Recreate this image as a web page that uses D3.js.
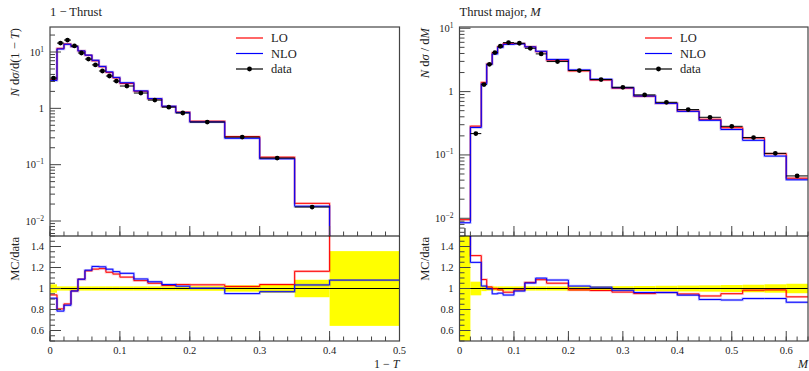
<!DOCTYPE html>
<html><head><meta charset="utf-8">
<script src="https://cdn.jsdelivr.net/npm/d3@7"></script>
<style>body{margin:0;background:#fff} text{font-family:"Liberation Serif","DejaVu Serif",serif;fill:#222}</style>
</head><body><svg id="c" width="809" height="371"></svg>
<script>
// ---------- 1 - Thrust ----------
const thrustEdges = [0,0.01,0.02,0.03,0.04,0.05,0.06,0.07,0.08,0.09,0.10,0.12,0.14,0.16,0.18,0.20,0.25,0.30,0.35,0.40,0.50];
const thrustData  = [3.45,14.4,16.3,12.8,9.6,7.5,5.9,4.6,3.75,3.05,2.49,1.87,1.40,1.05,0.826,0.571,0.309,0.131,0.0177,0.002];
const thrustErr   = [0.04,0.02,0.02,0.02,0.02,0.02,0.02,0.02,0.02,0.02,0.02,0.02,0.02,0.02,0.02,0.022,0.03,0.04,0.083,0.356];
const thrustLO    = [3.24,11.6,13.9,12.5,10.45,8.76,6.99,5.47,4.33,3.47,2.76,2.01,1.47,1.08,0.857,0.591,0.315,0.136,0.0206,0.004];
const thrustNLO   = [3.13,11.3,13.7,12.5,10.45,8.81,7.14,5.55,4.44,3.54,2.85,2.04,1.49,1.09,0.844,0.573,0.294,0.127,0.0183,0.00216];
const thrustXTicks = [0,0.1,0.2,0.3,0.4,0.5];

// ---------- Thrust major ----------
const majorEdges = [0,0.02,0.04,0.05,0.06,0.07,0.08,0.10,0.12,0.14,0.16,0.20,0.24,0.28,0.32,0.36,0.40,0.44,0.48,0.52,0.56,0.60,0.64];
const majorData  = [0.0035,0.217,1.29,2.70,4.13,5.20,5.94,5.80,4.83,3.94,2.98,2.15,1.55,1.17,0.887,0.678,0.520,0.393,0.283,0.188,0.106,0.0466];
const majorErr   = [1.0,0.065,0.025,0.02,0.02,0.02,0.02,0.02,0.02,0.02,0.02,0.02,0.02,0.022,0.024,0.026,0.028,0.03,0.033,0.036,0.04,0.045];
const majorLO    = [0.0095,0.285,1.40,2.74,4.12,5.13,5.73,5.72,5.11,4.27,3.13,2.12,1.52,1.13,0.844,0.652,0.493,0.365,0.269,0.185,0.1046,0.0429];
const majorNLO   = [0.0085,0.271,1.32,2.69,3.92,4.97,5.57,5.66,5.08,4.33,3.22,2.20,1.57,1.15,0.853,0.652,0.487,0.352,0.252,0.170,0.0959,0.0405];
const majorXTicks = [0,0.1,0.2,0.3,0.4,0.5,0.6];

const ratioTicks = [0.6,0.8,1,1.2,1.4];
const legendLabels = ["LO","NLO","data"];
const colLO = "#ff0000", colNLO = "#0000ff", frameCol = "#444";

const svg = d3.select("#c");
let clipId = 0;

function supText(sel, base, sup){
  sel.append("tspan").text(base);
  if(sup!==null) sel.append("tspan").attr("dy",-4).attr("font-size",7.5).text(sup);
}

function drawPanel(cfg){
  const g = svg.append("g");
  const x = d3.scaleLinear().domain(cfg.xDomain).range([cfg.x0,cfg.x1]);
  const y = d3.scaleLog().domain(cfg.yDomain).range([cfg.mainBot,cfg.top]);
  const r = d3.scaleLinear().domain([0.5,1.5]).range([cfg.ratioBot,cfg.mainBot]);
  const edges = cfg.edges;

  const cm = "clip"+(clipId++), cr = "clip"+(clipId++);
  const defs = g.append("defs");
  defs.append("clipPath").attr("id",cm).append("rect")
    .attr("x",cfg.x0).attr("y",cfg.top).attr("width",cfg.x1-cfg.x0).attr("height",cfg.mainBot-cfg.top);
  defs.append("clipPath").attr("id",cr).append("rect")
    .attr("x",cfg.x0).attr("y",cfg.mainBot).attr("width",cfg.x1-cfg.x0).attr("height",cfg.ratioBot-cfg.mainBot);

  const step = (vals, sc) => {
    const pts = edges.map((e,i)=>[e, vals[Math.min(i, vals.length-1)]]);
    return d3.line().x(d=>x(d[0])).y(d=>sc(d[1])).curve(d3.curveStepAfter)(pts);
  };

  // ----- main panel -----
  const gm = g.append("g").attr("clip-path",`url(#${cm})`);
  [[cfg.lo,colLO],[cfg.nlo,colNLO]].forEach(([v,c])=>{
    gm.append("path").attr("d",step(v,y)).attr("fill","none").attr("stroke",c).attr("stroke-opacity",0.25).attr("stroke-width",2.4);
    gm.append("path").attr("d",step(v,y)).attr("fill","none").attr("stroke",c).attr("stroke-width",1);
  });
  cfg.data.forEach((v,i)=>{
    const xa=x(edges[i]), xb=x(edges[i+1]), xc=(xa+xb)/2;
    gm.append("line").attr("x1",xa).attr("x2",xb).attr("y1",y(v)).attr("y2",y(v)).attr("stroke","#000").attr("stroke-width",1);
    gm.append("line").attr("x1",xc).attr("x2",xc).attr("y1",y(v*(1+cfg.err[i]))).attr("y2",y(Math.max(v*(1-cfg.err[i]),1e-6))).attr("stroke","#000").attr("stroke-width",1);
    gm.append("circle").attr("cx",xc).attr("cy",y(v)).attr("r",2.4).attr("fill","#000");
  });

  // ----- ratio panel -----
  const gr = g.append("g").attr("clip-path",`url(#${cr})`);
  cfg.data.forEach((v,i)=>{
    gr.append("rect").attr("x",x(edges[i])).attr("width",x(edges[i+1])-x(edges[i]))
      .attr("y",r(1+cfg.err[i])).attr("height",r(1-cfg.err[i])-r(1+cfg.err[i])).attr("fill","#ffff00");
  });
  gr.append("line").attr("x1",cfg.x0).attr("x2",cfg.x1).attr("y1",r(1)).attr("y2",r(1)).attr("stroke","#000").attr("stroke-width",1.2);
  [[cfg.lo,colLO],[cfg.nlo,colNLO]].forEach(([v,c])=>{
    const rat = v.map((m,i)=>m/cfg.data[i]);
    gr.append("path").attr("d",step(rat,r)).attr("fill","none").attr("stroke",c).attr("stroke-opacity",0.25).attr("stroke-width",2.4);
    gr.append("path").attr("d",step(rat,r)).attr("fill","none").attr("stroke",c).attr("stroke-width",1);
  });

  // ----- frames -----
  const fr = g.append("g").attr("fill","none").attr("stroke",frameCol).attr("stroke-width",1.2);
  fr.append("rect").attr("x",cfg.x0).attr("y",cfg.top).attr("width",cfg.x1-cfg.x0).attr("height",cfg.ratioBot-cfg.top);
  fr.append("line").attr("x1",cfg.x0).attr("x2",cfg.x1).attr("y1",cfg.mainBot).attr("y2",cfg.mainBot).attr("stroke","#000");

  const tk = g.append("g").attr("stroke",frameCol).attr("stroke-width",1);
  const minorX = d3.range(cfg.xDomain[0], cfg.xDomain[1]+1e-9, 0.02);
  [cfg.mainBot, cfg.ratioBot].forEach(yb=>{
    minorX.forEach(t=>tk.append("line").attr("x1",x(t)).attr("x2",x(t)).attr("y1",yb).attr("y2",yb-4.5));
    cfg.xTicks.forEach(t=>tk.append("line").attr("x1",x(t)).attr("x2",x(t)).attr("y1",yb).attr("y2",yb-10));
  });
  cfg.xTicks.forEach(t=>{
    g.append("text").attr("x",x(t)).attr("y",cfg.ratioBot+13).attr("text-anchor","middle").attr("font-size",10.5).text(t===0?"0":d3.format(".1f")(t));
  });
  const [lo10,hi10] = [Math.floor(Math.log10(cfg.yDomain[0])), Math.ceil(Math.log10(cfg.yDomain[1]))];
  for(let k=lo10;k<=hi10;k++){
    for(let m=1;m<10;m++){
      const v=m*Math.pow(10,k);
      if(v<cfg.yDomain[0]||v>cfg.yDomain[1]) continue;
      tk.append("line").attr("x1",cfg.x0).attr("x2",cfg.x0+(m===1?11:5)).attr("y1",y(v)).attr("y2",y(v));
      if(m===1){
        const t=g.append("text").attr("x",cfg.x0-6).attr("y",y(v)+3.5).attr("text-anchor","end").attr("font-size",10.5);
        if(k===0) supText(t,"1",null); else supText(t,"10",k<0?"\u2212"+(-k):String(k));
      }
    }
  }
  d3.range(0.5,1.5001,0.05).forEach(v=>tk.append("line").attr("x1",cfg.x0).attr("x2",cfg.x0+5).attr("y1",r(v)).attr("y2",r(v)));
  ratioTicks.forEach(v=>{
    tk.append("line").attr("x1",cfg.x0).attr("x2",cfg.x0+11).attr("y1",r(v)).attr("y2",r(v));
    g.append("text").attr("x",cfg.x0-6).attr("y",r(v)+3.5).attr("text-anchor","end").attr("font-size",10.5).text(v===1?"1":d3.format(".1f")(v));
  });

  const tt = g.append("text").attr("x",cfg.x0).attr("y",16).attr("font-size",12.5);
  cfg.title(tt);
  const yl = g.append("text").attr("transform",`translate(${cfg.x0-31},${cfg.top+1}) rotate(-90)`).attr("text-anchor","end").attr("font-size",12.5);
  cfg.ylabel(yl);
  g.append("text").attr("transform",`translate(${cfg.x0-31},${cfg.mainBot+1}) rotate(-90)`).attr("text-anchor","end").attr("font-size",12.5).text("MC/data");
  const xl = g.append("text").attr("x",cfg.x1).attr("y",cfg.ratioBot+27).attr("text-anchor","end").attr("font-size",12);
  cfg.xlabel(xl);

  const lg = g.append("g");
  legendLabels.forEach((lab,i)=>{
    const yy = cfg.legY + i*15.5;
    const c = i===0?colLO:(i===1?colNLO:"#000");
    lg.append("line").attr("x1",cfg.legX).attr("x2",cfg.legX+27).attr("y1",yy).attr("y2",yy).attr("stroke",c).attr("stroke-width",1.2);
    if(i===2) lg.append("circle").attr("cx",cfg.legX+13.5).attr("cy",yy).attr("r",2.4).attr("fill","#000");
    lg.append("text").attr("x",cfg.legX+35).attr("y",yy+4).attr("font-size",12.5).text(lab);
  });
}

drawPanel({
  x0:50, x1:399.5, top:27, mainBot:236, ratioBot:341,
  xDomain:[0,0.5], yDomain:[Math.pow(10,-2.266),Math.pow(10,1.444)],
  edges:thrustEdges, data:thrustData, err:thrustErr, lo:thrustLO, nlo:thrustNLO, xTicks:thrustXTicks,
  legX:236, legY:38,
  title:t=>{t.append("tspan").text("1 \u2212 Thrust");},
  ylabel:t=>{t.append("tspan").attr("font-style","italic").text("N");t.append("tspan").text(" d");t.append("tspan").attr("font-style","italic").text("\u03c3");t.append("tspan").text("/d(1 \u2212 ");t.append("tspan").attr("font-style","italic").text("T");t.append("tspan").text(")");},
  xlabel:t=>{t.append("tspan").text("1 \u2212 ");t.append("tspan").attr("font-style","italic").text("T");}
});
drawPanel({
  x0:459.5, x1:808, top:27, mainBot:236, ratioBot:341,
  xDomain:[0,0.64], yDomain:[Math.pow(10,-2.28),Math.pow(10,1.02)],
  edges:majorEdges, data:majorData, err:majorErr, lo:majorLO, nlo:majorNLO, xTicks:majorXTicks,
  legX:645, legY:38,
  title:t=>{t.append("tspan").text("Thrust major, ");t.append("tspan").attr("font-style","italic").text("M");},
  ylabel:t=>{t.append("tspan").attr("font-style","italic").text("N");t.append("tspan").text(" d");t.append("tspan").attr("font-style","italic").text("\u03c3");t.append("tspan").text(" / d");t.append("tspan").attr("font-style","italic").text("M");},
  xlabel:t=>{t.append("tspan").attr("font-style","italic").text("M");}
});
</script></body></html>
